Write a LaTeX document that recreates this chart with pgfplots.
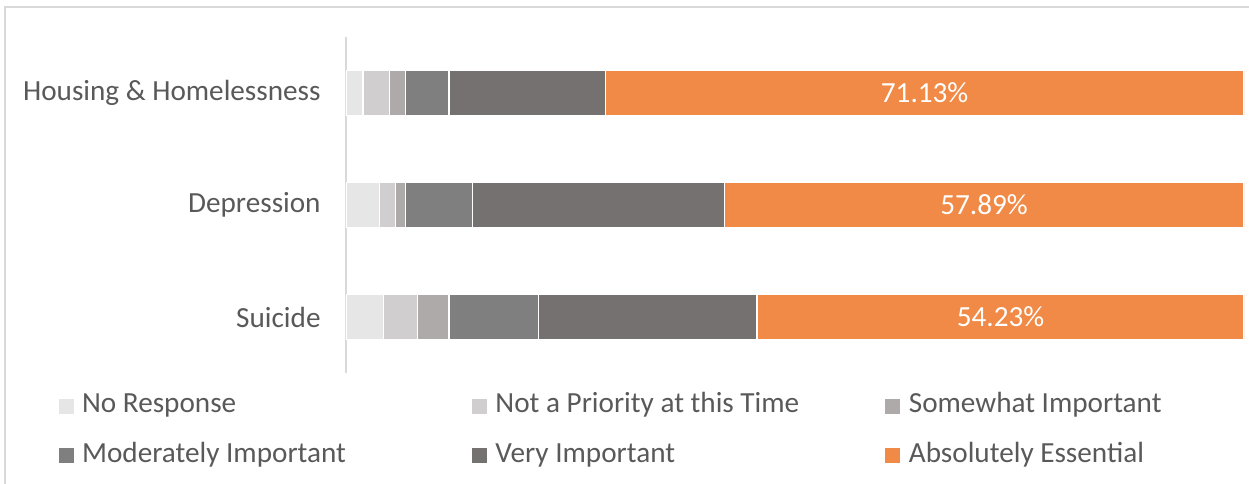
\documentclass[border=0pt]{standalone}
\usepackage{fontspec}
\setmainfont{Carlito}
\usepackage{pgfplots}
\usepackage{pgfplotstable}
\pgfplotsset{compat=1.18}

\definecolor{txt}{HTML}{595959}
\definecolor{cNR}{HTML}{E7E6E6}
\definecolor{cNP}{HTML}{D0CECE}
\definecolor{cSW}{HTML}{AEAAAA}
\definecolor{cMI}{HTML}{7F7F7F}
\definecolor{cVI}{HTML}{767171}
\definecolor{cAE}{HTML}{F08A46}
\definecolor{frame}{HTML}{D9D9D9}

% y: 2 = Housing, 1 = Depression, 0 = Suicide
\pgfplotstableread{
y nr np sw mi vi ae
2 1.90 2.90 1.80 4.88 17.39 71.13
1 3.70 1.80 1.10 7.53 27.98 57.89
0 4.15 3.80 3.52 10.00 24.30 54.23
}\priorities

\newcommand{\legtext}[1]{\makebox[195pt][l]{#1}}

\begin{document}
\begin{tikzpicture}[font=\fontsize{14.6}{17}\selectfont]
\path[use as bounding box] (0,0) rectangle (624.5pt,-241.5pt);
\draw[frame, line width=1pt] (2.5pt,-245pt) -- (2.5pt,-3.5pt) -- (630pt,-3.5pt);

\begin{axis}[
  at={(173pt,-186.5pt)}, anchor=south west,
  scale only axis,
  width=449pt, height=168pt,
  xbar stacked,
  bar width=22.5pt,
  xmin=0, xmax=100,
  ymin=-0.5, ymax=2.5,
  axis x line=none,
  axis y line=left,
  axis line style={-, draw=frame, line width=1pt},
  ytick={0,1,2},
  yticklabels={Suicide,Depression,Housing \& Homelessness},
  major tick length=0pt,
  ytick style={draw=none},
  yticklabel style={text=txt, inner xsep=0pt, xshift=-12.5pt},
  legend columns=3,
  legend cell align=left,
  legend image code/.code={\fill[#1, draw=none] (0pt,-3.75pt) rectangle (7.5pt,3.75pt);},
  legend style={
    at={(-0.3204,-0.0604)}, anchor=north west,
    draw=none, fill=none, inner sep=0pt,
    row sep=12.3pt,
    nodes={text=txt, inner sep=0pt, text height=9.5pt, text depth=3pt},
    /tikz/every odd column/.append style={column sep=4.2pt},
    /tikz/every even column/.append style={column sep=0pt},
  },
]
\addplot[fill=cNR, draw=white, line width=0.6pt] table[x=nr, y=y] {\priorities};
\addlegendentry{\legtext{No Response}}
\addplot[fill=cNP, draw=white, line width=0.6pt] table[x=np, y=y] {\priorities};
\addlegendentry{\legtext{Not a Priority at this Time}}
\addplot[fill=cSW, draw=white, line width=0.6pt] table[x=sw, y=y] {\priorities};
\addlegendentry{\legtext{Somewhat Important}}
\addplot[fill=cMI, draw=white, line width=0.6pt] table[x=mi, y=y] {\priorities};
\addlegendentry{\legtext{Moderately Important}}
\addplot[fill=cVI, draw=white, line width=0.6pt] table[x=vi, y=y] {\priorities};
\addlegendentry{\legtext{Very Important}}
\addplot[fill=cAE, draw=white, line width=0.6pt,
  visualization depends on={\thisrow{ae} \as \aeval},
  nodes near coords={\pgfmathprintnumber[fixed,fixed zerofill,precision=2,assume math mode=true]{\aeval}\%},
  every node near coord/.append style={text=white, anchor=center}
] table[x=ae, y=y] {\priorities};
\addlegendentry{\legtext{Absolutely Essential}}
\end{axis}
\end{tikzpicture}
\end{document}
